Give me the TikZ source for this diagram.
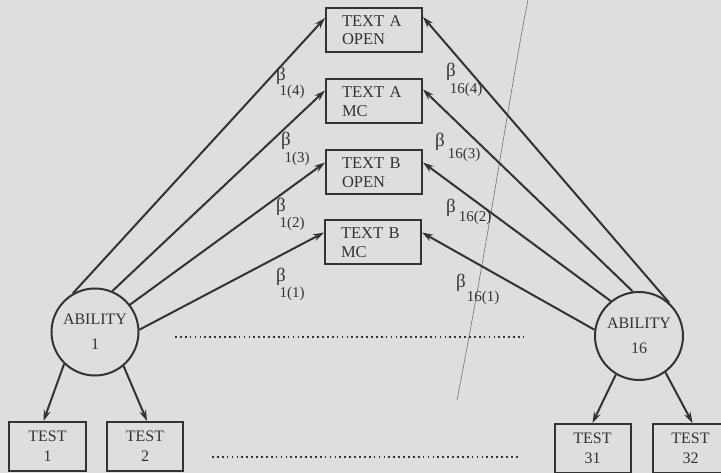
\documentclass[tikz,border=0pt]{standalone}
\usepackage{fontspec}
\setmainfont{Liberation Serif}
\usetikzlibrary{arrows.meta}
\definecolor{paper}{HTML}{DEDEDC}
\definecolor{ink}{HTML}{333333}
\definecolor{hair}{HTML}{707070}
\begin{document}
\begin{tikzpicture}[x=1pt,y=-1pt,
  textbox/.style={draw=ink, line width=2pt, fill=paper, minimum width=96pt,
    minimum height=44pt, text width=64pt, inner xsep=16pt, inner ysep=2pt,
    align=left, font=\fontsize{16.5}{18.5}\selectfont, text=ink},
  testbox/.style={draw=ink, line width=2pt, fill=paper, minimum width=76pt,
    minimum height=49pt, inner sep=2pt, align=center,
    font=\fontsize{16}{20}\selectfont, text=ink},
  ability/.style={circle, draw=ink, line width=2pt, fill=paper,
    minimum size=87pt, inner sep=0pt, align=center,
    font=\fontsize{16}{25}\selectfont, text=ink},
  link/.style={draw=ink, line width=2pt, -{Stealth[length=11pt,width=7pt]}},
  betasym/.style={font=\fontsize{19}{19}\selectfont, text=ink, inner sep=0pt},
  betasub/.style={font=\fontsize{15}{15}\selectfont, text=ink, inner sep=0pt},
  dots/.style={draw=ink, line width=1.7pt, dash pattern=on 1.7pt off 3.2pt},
]
% page
\fill[paper] (0,0) rectangle (721,473);
\useasboundingbox (0,0) rectangle (721,473);
\clip (0,0) rectangle (721,473);

% a thin stray hairline across the page
\draw[hair, line width=0.6pt] (528,0) .. controls (510,90) and (492,220) .. (457,400);

% text boxes
\node[textbox] (ta)  at (374,30)    {TEXT A\\OPEN};
\node[textbox] (tam) at (374,101.5) {TEXT A\\MC};
\node[textbox] (tb)  at (374,172.5) {TEXT B\\OPEN};
\node[textbox] (tbm) at (373,242.5) {TEXT B\\MC};

% abilities
\node[ability] (ab1)  at (95,332)  {ABILITY\\1};
\node[ability, minimum size=88pt] (ab16) at (639,336) {ABILITY\\16};

% tests
\node[testbox, minimum width=77pt] (t1)  at (47.5,446.5) {TEST\\1};
\node[testbox] (t2)  at (145,446.5)  {TEST\\2};
\node[testbox] (t31) at (592.5,448.5) {TEST\\31};
\node[testbox, minimum width=75pt] (t32) at (690.5,448.5) {TEST\\32};

% loadings of ability 1
\draw[link] (ab1.120) -- ([yshift=12pt]ta.west);
\draw[link] (ab1.67)  -- ([yshift=11pt]tam.west);
\draw[link] (ab1.38)  -- ([yshift=10pt]tb.west);
\draw[link] (ab1.3)   -- ([yshift=10pt]tbm.west);

% loadings of ability 16
\draw[link] (ab16.48)  -- ([yshift=13pt]ta.east);
\draw[link] (ab16.98)  -- ([yshift=12pt]tam.east);
\draw[link] (ab16.129) -- ([yshift=10pt]tb.east);
\draw[link] (ab16.172) -- ([yshift=10pt]tbm.east);

% abilities to tests
\draw[link] (ab1.226)  -- ([xshift=-4pt]t1.north);
\draw[link] (ab1.310)  -- ([xshift=2pt]t2.north);
\draw[link] (ab16.239) -- (t31.north);
\draw[link] (ab16.306) -- ([xshift=2pt]t32.north);

% beta labels
\node[betasym] (b14) at (281,76)  {β};
\node[betasub] (s14) at (292,92)  {1(4)};
\node[betasym] (b13) at (286,141) {β};
\node[betasub] (s13) at (297,159) {1(3)};
\node[betasym] (b12) at (281,207) {β};
\node[betasub] (s12) at (292,224) {1(2)};
\node[betasym] (b11) at (281,277) {β};
\node[betasub] (s11) at (292,294) {1(1)};

\node[betasym] (b164) at (451,72)  {β};
\node[betasub] (s164) at (466,90)  {16(4)};
\node[betasym] (b163) at (440,142) {β};
\node[betasub] (s163) at (464,155) {16(3)};
\node[betasym] (b162) at (451,208) {β};
\node[betasub] (s162) at (475,218) {16(2)};
\node[betasym] (b161) at (461,283) {β};
\node[betasub] (s161) at (483,298) {16(1)};

% ellipses between the first and last ability
\coordinate (d1a) at (175,337);
\coordinate (d1b) at (523,337);
\coordinate (d2a) at (212,457);
\coordinate (d2b) at (518,457);
\draw[dots] (d1a) -- (d1b);
\draw[dots] (d2a) -- (d2b);
\end{tikzpicture}
\end{document}
